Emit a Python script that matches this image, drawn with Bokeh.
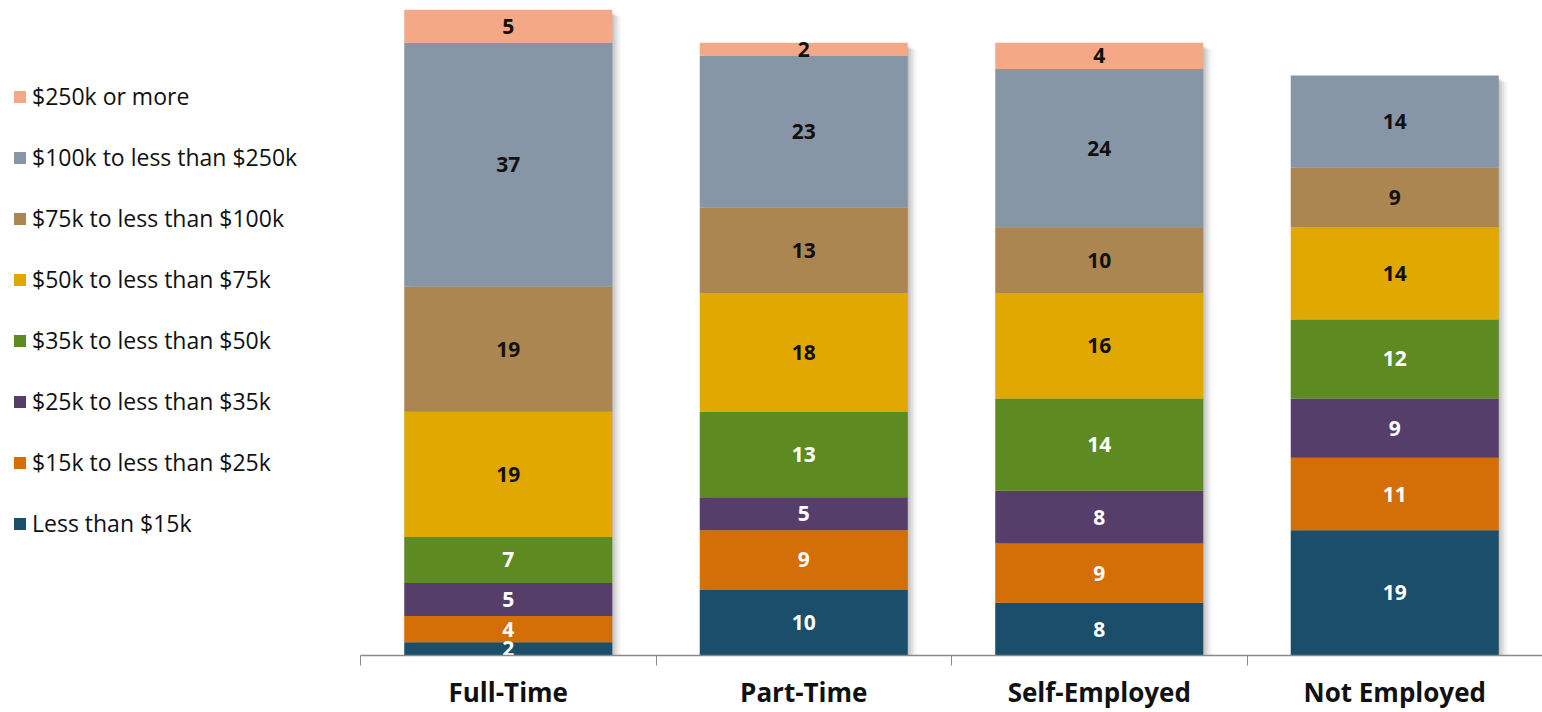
from bokeh.plotting import figure
from bokeh.layouts import row
from bokeh.models import (ColumnDataSource, FixedTicker, Range1d, Legend, LegendItem)
from bokeh.core.properties import value
from bokeh.embed import file_html
from bokeh.resources import INLINE

categories = ["Full-Time", "Part-Time", "Self-Employed", "Not Employed"]

# income brackets, bottom of the stack first
brackets = [
    "Less than $15k",
    "$15k to less than $25k",
    "$25k to less than $35k",
    "$35k to less than $50k",
    "$50k to less than $75k",
    "$75k to less than $100k",
    "$100k to less than $250k",
    "$250k or more",
]
lt_15k = [2, 10, 8, 19]
k15_25 = [4, 9, 9, 11]
k25_35 = [5, 5, 8, 9]
k35_50 = [7, 13, 14, 12]
k50_75 = [19, 18, 16, 14]
k75_100 = [19, 13, 10, 9]
k100_250 = [37, 23, 24, 14]
k250_plus = [5, 2, 4, 0]

series = [lt_15k, k15_25, k25_35, k35_50, k50_75, k75_100, k100_250, k250_plus]
colors = ["#1B4E6B", "#D46E07", "#553F6A", "#5E8A22",
          "#E0A800", "#AB8650", "#8796A6", "#F4A886"]
label_colors = ["white", "white", "white", "white",
                "#111111", "#111111", "#111111", "#111111"]

FONT = "Open Sans"
keys = [f"s{i}" for i in range(len(series))]
xs = [i + 0.5 for i in range(len(categories))]

data = {"x": xs}
for k, s in zip(keys, series):
    data[k] = s
source = ColumnDataSource(data)

totals = [sum(col) for col in zip(*series)]

PLOT_W, PLOT_H = 1182, 712
Y_MAX = 99.4

p = figure(width=PLOT_W, height=PLOT_H, output_backend="svg", toolbar_location=None,
           x_range=Range1d(0, 4), y_range=Range1d(0, Y_MAX),
           y_axis_location=None, min_border_left=0, min_border_right=0,
           min_border_top=0, min_border_bottom=57)
p.outline_line_color = None
p.grid.visible = False
p.background_fill_color = "white"

bar_w = 0.704

# soft drop shadow behind each column
px_x = 4.0 / PLOT_W
px_y = Y_MAX / 655.0
for dx, dy, a in [(1, 3, 0.12), (3, 4, 0.11), (5, 5, 0.09), (7, 6, 0.06), (9, 7, 0.04)]:
    p.vbar(x=[x + dx * px_x for x in xs], width=bar_w, bottom=0,
           top=[t - dy * px_y for t in totals], fill_color="#505050",
           fill_alpha=a, line_color=None)

renderers = p.vbar_stack(keys, x="x", width=bar_w, color=colors,
                         line_color=None, source=source)

# value labels centred in each segment
for i, s in enumerate(series):
    mids, texts, lx = [], [], []
    for j, v in enumerate(s):
        if v == 0:
            continue
        base = sum(series[m][j] for m in range(i))
        mids.append(base + v / 2)
        texts.append(str(v))
        lx.append(xs[j])
    p.text(x=lx, y=mids, text=texts, text_align="center", text_baseline="middle",
           text_font=value(FONT), text_font_style="bold", text_font_size="21px",
           text_color=label_colors[i])

# x axis: names at column centres, ticks on the boundaries
ax = p.xaxis[0]
ax.ticker = FixedTicker(ticks=xs, minor_ticks=list(range(len(categories) + 1)))
ax.major_label_overrides = {x: c for x, c in zip(xs, categories)}
ax.major_tick_line_color = None
ax.major_tick_out = 0
ax.major_tick_in = 0
ax.minor_tick_line_color = "#8A8A8A"
ax.minor_tick_out = 10
ax.minor_tick_in = 0
ax.axis_line_color = "#8A8A8A"
ax.axis_line_width = 1.5
ax.major_label_text_font = FONT
ax.major_label_text_font_style = "bold"
ax.major_label_text_font_size = "26px"
ax.major_label_text_color = "#111111"
ax.major_label_standoff = 8

# legend panel to the left of the columns; swatch renderers sit outside the visible range
lg = figure(width=1542 - PLOT_W, height=PLOT_H, output_backend="svg", toolbar_location=None,
            x_range=Range1d(0, 1), y_range=Range1d(0, 1),
            x_axis_location=None, y_axis_location=None,
            min_border_left=0, min_border_right=0, min_border_top=0, min_border_bottom=0)
lg.outline_line_color = None
lg.grid.visible = False
swatches = [lg.vbar(x=[50], top=[51], bottom=[50], width=0.1, color=c, line_color=None)
            for c in colors]

items = [LegendItem(label=brackets[i], renderers=[swatches[i]]) for i in reversed(range(len(series)))]
legend = Legend(items=items, location=(12, 116), orientation="vertical",
                glyph_width=15, glyph_height=15, label_height=32, spacing=29,
                label_standoff=5, padding=0, margin=0, border_line_color=None,
                background_fill_alpha=0, label_text_font=FONT,
                label_text_font_size="23px", label_text_color="#111111")
lg.add_layout(legend, "center")

layout = row(lg, p, spacing=0)
open("out.html", "w").write(file_html(layout, INLINE))
